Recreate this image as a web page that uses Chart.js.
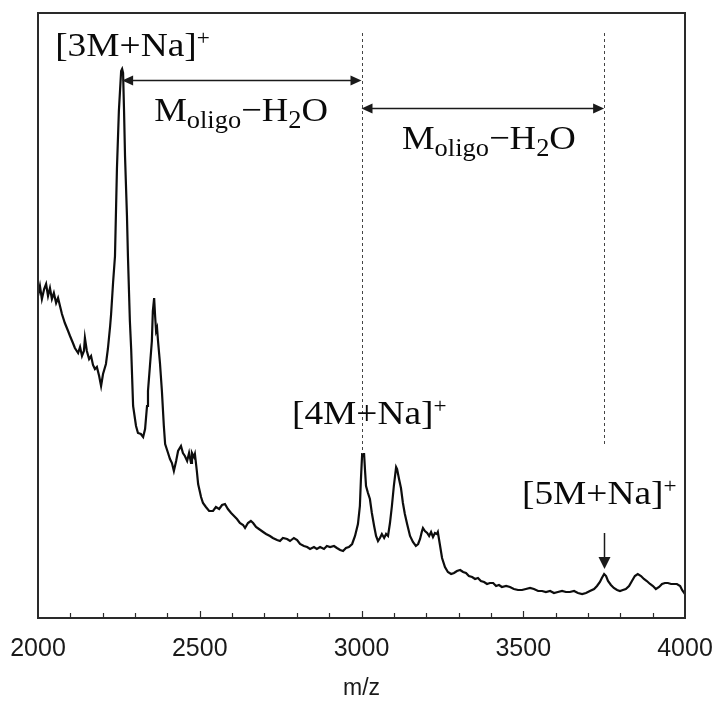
<!DOCTYPE html>
<html>
<head>
<meta charset="utf-8">
<script src="https://cdn.jsdelivr.net/npm/chart.js@4.4.1/dist/chart.umd.min.js"></script>
<style>
    html, body { margin: 0; padding: 0; background: #fff; }
</style>
</head>
<body>
<canvas id="spectrum" width="718" height="702"></canvas>
<script>
// Spectrum trace (m/z vs. relative intensity, arbitrary units)
const mz = [
    2000, 2006, 2012, 2019, 2025, 2031, 2037, 2043, 2049, 2056, 2062, 2068, 2074, 2083, 2093, 2099,
    2108, 2114, 2124, 2130, 2136, 2142, 2145, 2151, 2158, 2164, 2170, 2176, 2182, 2189, 2195, 2201,
    2210, 2216, 2223, 2226, 2232, 2238, 2244, 2250, 2257, 2260, 2263, 2266, 2269, 2275, 2278, 2284,
    2288, 2294, 2303, 2309, 2318, 2325, 2331, 2337, 2340, 2346, 2352, 2355, 2359, 2362, 2365, 2368,
    2371, 2377, 2383, 2389, 2393, 2402, 2408, 2414, 2420, 2427, 2433, 2442, 2448, 2454, 2461, 2467,
    2473, 2476, 2482, 2485, 2491, 2495, 2504, 2510, 2519, 2529, 2541, 2550, 2560, 2569, 2578, 2587,
    2597, 2606, 2615, 2624, 2634, 2640, 2649, 2658, 2665, 2674, 2683, 2696, 2705, 2717, 2726, 2739,
    2748, 2757, 2770, 2779, 2791, 2801, 2810, 2822, 2832, 2841, 2853, 2862, 2872, 2884, 2893, 2903,
    2915, 2924, 2934, 2943, 2952, 2961, 2971, 2980, 2989, 2995, 2998, 3002, 3008, 3011, 3014, 3020,
    3026, 3032, 3039, 3045, 3051, 3057, 3063, 3070, 3076, 3082, 3088, 3094, 3100, 3107, 3110, 3116,
    3122, 3128, 3134, 3141, 3150, 3159, 3168, 3175, 3181, 3187, 3190, 3196, 3203, 3209, 3215, 3221,
    3227, 3233, 3236, 3243, 3249, 3258, 3267, 3277, 3286, 3295, 3305, 3314, 3323, 3332, 3342, 3351,
    3360, 3369, 3379, 3388, 3397, 3407, 3416, 3425, 3434, 3447, 3459, 3471, 3484, 3496, 3508, 3521,
    3533, 3546, 3558, 3570, 3583, 3595, 3607, 3620, 3632, 3644, 3657, 3669, 3682, 3694, 3706, 3719,
    3728, 3737, 3743, 3750, 3756, 3762, 3771, 3780, 3790, 3799, 3808, 3817, 3827, 3836, 3845, 3854,
    3864, 3873, 3882, 3892, 3901, 3910, 3920, 3929, 3938, 3947, 3957, 3966, 3975, 3985, 3991, 4000
];
const intensity = [
    322, 332, 319, 329, 334, 322, 330, 319, 325, 315, 320, 312, 304, 295, 287, 282,
    275, 270, 265, 271, 262, 267, 280, 267, 259, 262, 253, 249, 251, 242, 232, 244,
    254, 269, 292, 304, 335, 362, 449, 507, 547, 549, 545, 507, 462, 402, 362, 297,
    269, 212, 192, 185, 184, 181, 189, 212, 227, 252, 277, 307, 320, 302, 287, 290,
    277, 255, 227, 192, 174, 165, 159, 155, 147, 157, 167, 172, 165, 162, 157, 165,
    155, 165, 161, 164, 147, 134, 121, 115, 111, 107, 107, 111, 109, 113, 114, 109,
    105, 102, 99, 95, 93, 90, 95, 97, 95, 91, 89, 86, 84, 82, 80, 78,
    77, 80, 79, 77, 80, 78, 74, 72, 71, 69, 71, 69, 71, 69, 72, 71,
    72, 70, 68, 67, 70, 71, 74, 82, 94, 112, 137, 164, 164, 147, 132, 125,
    119, 105, 92, 82, 77, 80, 84, 80, 84, 82, 95, 112, 132, 151, 149, 139,
    130, 115, 104, 94, 82, 76, 72, 74, 79, 87, 90, 87, 85, 82, 86, 81,
    85, 84, 86, 72, 60, 51, 46, 44, 45, 47, 48, 46, 45, 42, 41, 39,
    40, 37, 36, 34, 35, 35, 32, 33, 31, 32, 31, 29, 28, 28, 29, 30,
    29, 27, 27, 26, 27, 25, 26, 27, 26, 26, 27, 25, 24, 25, 27, 29,
    32, 36, 40, 44, 42, 37, 33, 30, 28, 27, 28, 29, 32, 37, 42, 44,
    42, 39, 37, 34, 32, 29, 31, 34, 35, 35, 34, 34, 34, 32, 28, 24
];

// Axis
const xTickLabels = [2000, 2500, 3000, 3500, 4000];
const minorStep = 100;

// Annotations (data units)
const guideMz = [3000, 3750];
const guideTop = [585, 585];
const guideBottom = [164, 172];
const spacingFrom = [2260, 3000];
const spacingTo = [3000, 3750];
const spacingLevel = [538, 510];
const ionNames = ['[3M+Na]', '[4M+Na]', '[5M+Na]'];
const ionLabelMz = [2053, 2785, 3496];
const ionLabelLevel = [562, 194, 114];
const lossLabelMz = [2359, 3125];
const lossLabelLevel = [497, 469];
const pointerMz = 3750;
const pointerFrom = 85;
const pointerTo = 49;

const SERIF = '"Liberation Serif", "Times New Roman", serif';

function drawRich(ctx, parts, x, y, size, stretch) {
    ctx.save();
    ctx.translate(x, y);
    ctx.scale(stretch, 1);
    ctx.textBaseline = 'alphabetic';
    ctx.textAlign = 'left';
    let cx = 0;
    parts.forEach(p => {
        ctx.font = `${size * (p.scale || 1)}px ${SERIF}`;
        ctx.fillText(p.text, cx, (p.shift || 0) * size);
        cx += ctx.measureText(p.text).width;
    });
    ctx.restore();
}

function arrowHead(ctx, x, y, dx, dy, len, half) {
    // tip at (x, y), pointing along (dx, dy)
    ctx.beginPath();
    ctx.moveTo(x, y);
    ctx.lineTo(x - dx * len - dy * half, y - dy * len - dx * half);
    ctx.lineTo(x - dx * len + dy * half, y - dy * len + dx * half);
    ctx.closePath();
    ctx.fill();
}

const notesPlugin = {
    id: 'spectrumNotes',
    afterDraw(chart) {
        const { ctx, chartArea: a, scales: { x, y } } = chart;
        ctx.save();

        // frame
        ctx.strokeStyle = '#2a2a2a';
        ctx.lineWidth = 2;
        ctx.strokeRect(a.left, a.top, a.right - a.left, a.bottom - a.top);

        // inward ticks every 100
        ctx.lineWidth = 1.2;
        for (let v = x.min + minorStep; v < x.max; v += minorStep) {
            const px = Math.round(x.getPixelForValue(v)) + 0.5;
            const len = v % 500 === 0 ? 7 : 5;
            ctx.beginPath();
            ctx.moveTo(px, a.bottom);
            ctx.lineTo(px, a.bottom - len);
            ctx.stroke();
        }

        // dashed guides
        ctx.strokeStyle = '#444';
        ctx.lineWidth = 1;
        ctx.setLineDash([3, 3]);
        guideMz.forEach((m, i) => {
            const px = Math.round(x.getPixelForValue(m)) + 0.5;
            ctx.beginPath();
            ctx.moveTo(px, y.getPixelForValue(guideTop[i]));
            ctx.lineTo(px, y.getPixelForValue(guideBottom[i]));
            ctx.stroke();
        });
        ctx.setLineDash([]);

        // double-headed spacing arrows
        ctx.strokeStyle = '#1a1a1a';
        ctx.fillStyle = '#1a1a1a';
        ctx.lineWidth = 1.5;
        spacingFrom.forEach((m, i) => {
            const x0 = x.getPixelForValue(m);
            const x1 = x.getPixelForValue(spacingTo[i]);
            const py = Math.round(y.getPixelForValue(spacingLevel[i])) + 0.5;
            ctx.beginPath();
            ctx.moveTo(x0 + 6, py);
            ctx.lineTo(x1 - 6, py);
            ctx.stroke();
            arrowHead(ctx, x0, py, -1, 0, 11, 5);
            arrowHead(ctx, x1, py, 1, 0, 11, 5);
        });

        // pointer to the [5M+Na]+ peak
        const ppx = Math.round(x.getPixelForValue(pointerMz)) + 0.5;
        const pTop = y.getPixelForValue(pointerFrom);
        const pTip = y.getPixelForValue(pointerTo);
        ctx.beginPath();
        ctx.moveTo(ppx, pTop);
        ctx.lineTo(ppx, pTip - 8);
        ctx.stroke();
        arrowHead(ctx, ppx, pTip, 0, 1, 12, 6);

        // labels
        ctx.fillStyle = '#0a0a0a';
        ionNames.forEach((name, i) => {
            drawRich(ctx, [
                { text: name },
                { text: '+', scale: 0.62, shift: -0.33 }
            ], x.getPixelForValue(ionLabelMz[i]), y.getPixelForValue(ionLabelLevel[i]), 34, 1.1);
        });
        lossLabelMz.forEach((m, i) => {
            drawRich(ctx, [
                { text: 'M' },
                { text: 'oligo', scale: 0.72, shift: 0.2 },
                { text: '\u2212H' },
                { text: '2', scale: 0.72, shift: 0.2 },
                { text: 'O' }
            ], x.getPixelForValue(m), y.getPixelForValue(lossLabelLevel[i]), 34, 1.08);
        });

        ctx.restore();
    }
};

const ctx = document.getElementById('spectrum').getContext('2d');
const spectrumChart = new Chart(ctx, {
    type: 'line',
    data: {
        datasets: [{
            data: mz.map((m, i) => ({ x: m, y: intensity[i] })),
            borderColor: '#0d0d0d',
            borderWidth: 2.2,
            pointRadius: 0,
            tension: 0,
            fill: false
        }]
    },
    options: {
        responsive: false,
        animation: false,
        layout: { padding: { left: 38, right: 33, top: 13, bottom: 0 } },
        plugins: {
            legend: { display: false },
            tooltip: { enabled: false }
        },
        scales: {
            x: {
                type: 'linear',
                min: 2000,
                max: 4000,
                grid: { display: false, drawTicks: false },
                border: { display: false },
                afterBuildTicks: (scale) => {
                    scale.ticks = xTickLabels.map(v => ({ value: v }));
                },
                afterFit: (scale) => {
                    scale.paddingLeft = 0;
                    scale.paddingRight = 0;
                    scale.height = 84;
                },
                ticks: {
                    padding: 16,
                    color: '#1a1a1a',
                    maxRotation: 0,
                    font: { family: '"Liberation Sans", Arial, sans-serif', size: 25 },
                    callback: (v) => String(v)
                },
                title: {
                    display: true,
                    text: 'm/z',
                    color: '#1a1a1a',
                    font: { family: '"Liberation Sans", Arial, sans-serif', size: 23 },
                    padding: { top: 13, bottom: 0 }
                }
            },
            y: {
                display: false,
                min: 0,
                max: 605
            }
        }
    },
    plugins: [notesPlugin]
});
</script>
</body>
</html>
